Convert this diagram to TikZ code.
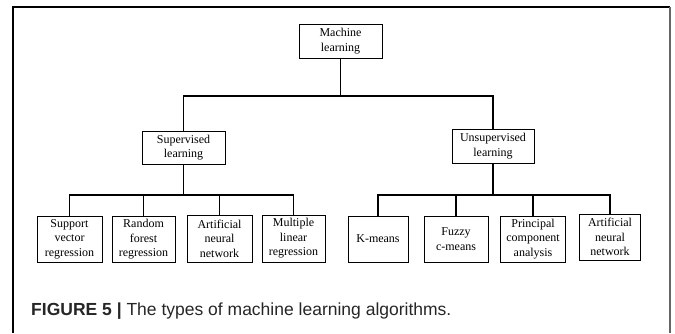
\documentclass[tikz,border=0pt]{standalone}
\usepackage{fontspec}
\setmainfont{Liberation Serif}
\newfontfamily\capfont{Liberation Sans}
\begin{document}
\begin{tikzpicture}[x=1pt,y=-1pt,
  box/.style={draw, line width=0.9pt, inner sep=0pt, align=center,
    font=\fontsize{12}{14.5}\selectfont},
  conn/.style={line width=1.1pt},
  frameline/.style={line width=1.4pt}]
\useasboundingbox (0,0) rectangle (675,333);
% frame
\draw[frameline] (13,333) -- (13,7) -- (670,7);
\draw[frameline, color=black!60] (670,7) -- (670,333);
% nodes
\node[box, minimum width=83pt, minimum height=34pt] (ml) at (340.5,41) {Machine\\learning};
\node[box, minimum width=83pt, minimum height=33pt] (sup) at (183.5,147.5) {Supervised\\learning};
\node[box, minimum width=82pt, minimum height=34pt] (uns) at (493,146) {Unsupervised\\learning};
\node[box, minimum width=65pt, minimum height=46pt] (b1) at (69.5,239) {Support\\vector\\regression};
\node[box, minimum width=63pt, minimum height=46pt] (b2) at (143.5,239.5) {Random\\forest\\regression};
\node[box, minimum width=65pt, minimum height=47pt] (b3) at (219.5,238.5) {Artificial\\neural\\network};
\node[box, minimum width=63pt, minimum height=47pt] (b4) at (293.5,238.5) {Multiple\\linear\\regression};
\node[box, minimum width=60pt, minimum height=46pt] (c1) at (378,239) {K-means};
\node[box, minimum width=64pt, minimum height=46pt] (c2) at (456,239) {Fuzzy\\c-means};
\node[box, minimum width=65pt, minimum height=46pt] (c3) at (533,239) {Principal\\component\\analysis};
\node[box, minimum width=61pt, minimum height=46pt] (c4) at (610,237) {Artificial\\neural\\network};
% junction coordinates
\coordinate (j0) at (340.5,96);
\coordinate (j1) at (183.5,195);
\coordinate (j2) at (493,195);
% connectors
\draw[conn] (ml.south) -- (j0);
\draw[conn] (sup.north) |- (j0) -| (uns.north);
\draw[conn] (sup.south) -- (j1);
\draw[conn] (b1.north) |- (j1) -| (b4.north);
\draw[conn] (b2.north) -- (b2.north |- j1);
\draw[conn] (b3.north) -- (b3.north |- j1);
\draw[conn] (uns.south) -- (j2);
\draw[conn] (c1.north) |- (j2) -| (c4.north);
\draw[conn] (c2.north) -- (c2.north |- j2);
\draw[conn] (c3.north) -- (c3.north |- j2);
% caption
\node[anchor=base west, inner sep=0pt, text=black!85, font=\capfont\fontsize{17.5}{20}\selectfont] (cap) at (31,315)
  {\textbf{FIGURE 5 |} The types of machine learning algorithms.};
\end{tikzpicture}
\end{document}
